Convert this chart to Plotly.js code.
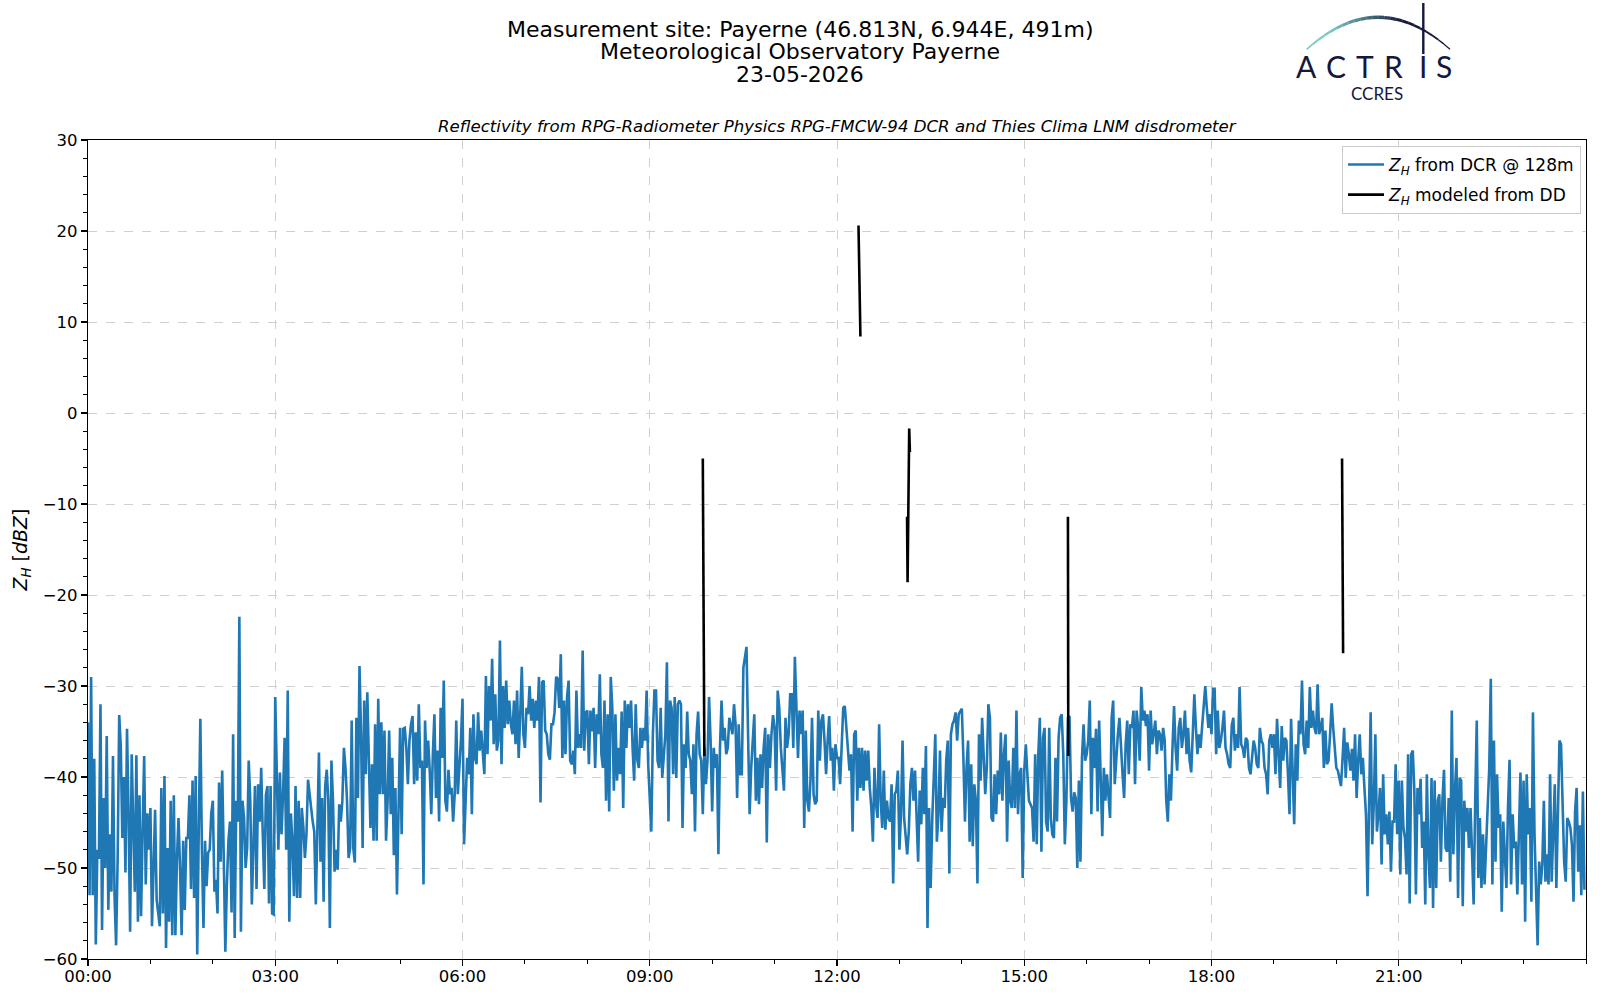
<!DOCTYPE html>
<html>
<head>
<meta charset="utf-8">
<script src="https://cdn.plot.ly/plotly-3.0.1.min.js"></script>
<style>html,body{margin:0;padding:0;background:#fff;}#chart{width:1600px;height:1000px;}</style>
</head>
<body>
<div id="chart"></div>
<script>
// ---- Data: Z_H from DCR @ 128m, 1.5-minute samples, one array per hour ----
const dayDate = '2026-05-23';
const stepSeconds = 90;
const zh00 = [-34,-53,-29,-53,-38,-58.4,-48,-49,-32,-56.8,-42.3,-50,-35.5,-54.6,-46.3,-52.6,-37.7,-53,-58.5,-49,-33.2,-36.6,-46.7,-40,-50.5,-34.7,-44,-57,-37.5,-45,-52.6,-37.6,-55.9,-42,-55.3,-46,-37.7,-51.8,-44,-48];
const zh01 = [-43.4,-56.4,-48,-43.6,-53.5,-54.8,-56.4,-41.2,-55,-39.9,-58.8,-47.8,-55.9,-42.6,-57.4,-42,-57.4,-49,-44.5,-50,-57.4,-47,-54.6,-46.7,-46.7,-42,-52.3,-40.4,-53.3,-39.9,-59.5,-45.5,-33.6,-48,-56.6,-47,-52,-48.3,-48,-44];
const zh02 = [-42.6,-52.6,-51.3,-55,-40.6,-49.3,-39.3,-48.9,-59.2,-51.8,-47,-44.9,-54.9,-35.3,-57.7,-42.6,-44.9,-22.4,-57,-42.6,-44.5,-50,-47.8,-38.2,-42.6,-54,-46.3,-41,-52.3,-40.8,-44.9,-39,-46.3,-52.3,-42,-41,-53.9,-41,-55,-55.1];
const zh03 = [-31.2,-38.6,-48,-39.5,-46.3,-42,-35.7,-48,-30.5,-55.9,-44,-47,-53.1,-41,-53.3,-42.6,-53.3,-43.4,-45.5,-48.9,-46.3,-40.3,-42.3,-43.4,-44.9,-46,-54,-43.4,-37.3,-49.3,-42.3,-53.7,-41,-39.2,-42.6,-56.6,-38.2,-42.6,-50.4,-48];
const zh04 = [-50.2,-43,-44.9,-42.6,-36.8,-39,-42.6,-48.9,-47.8,-33.8,-47.8,-49.4,-33.5,-42.3,-27.8,-35.3,-47.8,-31.6,-39.7,-30.7,-39.7,-45.6,-38.6,-47,-34.2,-47,-31.4,-41.9,-34,-41.9,-34.9,-47,-42.6,-34.9,-44.1,-37.9,-48.6,-41.2,-52.9,-44.1];
const zh05 = [-34.6,-46.3,-34.7,-34.6,-36.8,-40.8,-36,-34.2,-33.3,-40.8,-35.1,-40.4,-32,-39,-38.2,-51.8,-33.8,-39,-36,-39.3,-44.1,-37.5,-33.1,-42.3,-37.1,-44.9,-32.4,-37.9,-29.4,-42.6,-43.8,-39.2,-41.9,-41.2,-44.9,-41.9,-33.8,-41.9,-39.3,-36];
const zh06 = [-31.4,-47.4,-42.6,-37.9,-39.7,-34.6,-44.1,-33.1,-37.9,-38.6,-32.9,-37.1,-34.9,-37.9,-39.7,-28.9,-37.5,-30,-33.8,-27,-36.4,-30.9,-37.1,-36,-25,-38.6,-30,-34.6,-29.4,-34.2,-31.6,-34.2,-35.3,-31.6,-36.4,-30.5,-37.9,-33.1,-27.9,-35.3];
const zh07 = [-36.8,-32.4,-33.1,-30,-33.8,-31.4,-34.6,-31.6,-33.8,-29,-42.8,-29.6,-29.4,-34.9,-35.3,-37.5,-38.1,-34.2,-34.2,-32.9,-29,-29.2,-32.4,-26.5,-37.9,-31.6,-37.5,-31.2,-29.4,-38.2,-38.6,-37.1,-39.7,-30.5,-36.8,-35.3,-36.8,-26.1,-37.1,-32.9];
const zh08 = [-32.7,-38.6,-32.7,-35,-32.4,-39,-33.1,-35.3,-28.7,-37.5,-39,-31.6,-42.6,-33.1,-43.8,-29,-32.4,-41.5,-33.1,-40.4,-36.8,-39.7,-32.8,-43.4,-31.6,-36.8,-32,-34.6,-31.6,-36.8,-40.4,-32,-38.1,-39,-34.6,-36.8,-34.6,-36,-30.5,-38.6];
const zh09 = [-43.4,-46,-35.3,-30.5,-30.5,-38.2,-39,-32.4,-40.1,-37.1,-35.3,-27.4,-44.9,-31.6,-32.4,-39.7,-31.2,-40.1,-32,-31.6,-32,-45.6,-36.4,-39,-32.8,-37.5,-38.2,-41.9,-36.4,-46,-35.3,-32.8,-37.5,-38.2,-44.1,-36.8,-40.8,-38.2,-31.2,-36];
const zh10 = [-43.8,-36.8,-39,-37.5,-48.5,-36.8,-31.6,-36,-34.6,-37.5,-36.8,-33.5,-34.6,-35.3,-32,-34.2,-42.3,-34.2,-39.7,-39.7,-28,-26.8,-25.7,-35.3,-44.1,-39,-35.3,-33.1,-42.6,-37.9,-43,-37.5,-41.2,-36.8,-34.6,-47.2,-35.3,-39,-35.3,-33.2];
const zh11 = [-34.6,-41.5,-30.5,-32.4,-36.8,-39.7,-41.5,-33.5,-36.8,-35.3,-30.9,-30.9,-36.8,-26.8,-32,-37.9,-32.7,-35.3,-32.7,-45.6,-34.9,-42.6,-43.8,-40.4,-33.5,-41.9,-43,-42.6,-32.7,-38.2,-33.8,-33.1,-36,-39.7,-36,-33.3,-38.2,-36.8,-41.5,-36.4];
const zh12 = [-37.9,-37.9,-40.8,-36,-32.4,-32.2,-34.6,-36.8,-39.3,-37.5,-46,-35.3,-34.9,-42.6,-36.8,-41.2,-36.8,-41.5,-37.1,-40.4,-37.1,-41.2,-43.4,-47.1,-39,-43,-44.5,-34.2,-42.6,-45.6,-39.3,-45.8,-42.6,-44.5,-44.9,-40.8,-51.7,-41.9,-41.5,-39.3];
const zh13 = [-48,-44.1,-36,-44.5,-46.3,-48.5,-46,-40.8,-39,-42.6,-39.3,-43.4,-49.3,-41.5,-45.2,-39,-44.1,-36.6,-56.6,-43.4,-52.2,-44.9,-39.7,-35.3,-47.1,-44.1,-37.1,-46,-42.3,-43.4,-38.2,-36,-50.6,-35.3,-34.2,-33.8,-32.9,-36,-33.1,-32.7];
const zh14 = [-32.5,-37.9,-44.9,-39,-36,-47.1,-38.6,-47.6,-40.8,-42.6,-51.7,-35.3,-40.4,-33.5,-38.2,-41.9,-39,-32,-33.5,-44.5,-44.9,-39.7,-44.1,-39.3,-41.9,-35.1,-42.6,-37.5,-35.3,-47.1,-38.2,-42.6,-43.4,-36.8,-43.4,-32.7,-44.1,-39.7,-39,-51.1];
const zh15 = [-39.3,-36.4,-39.7,-42.6,-43,-43.4,-47.1,-37.5,-47.4,-37.5,-33.5,-48.2,-35.7,-34.6,-44.9,-46,-34.6,-44.5,-46.3,-46.7,-37.9,-44.9,-35.7,-33.5,-33.1,-37.5,-47.4,-42.6,-33.5,-33.3,-42.3,-43.8,-41.7,-42.3,-50,-40.4,-49.3,-37.9,-34.2,-38.2];
const zh16 = [-37.5,-36,-31.6,-44.1,-35.7,-39,-34.7,-43.8,-33.8,-41.5,-46.5,-39,-42.6,-39.7,-42.6,-44.5,-33.5,-31.6,-40.8,-37.9,-35.3,-33.5,-37.5,-39.7,-42.3,-36.4,-33.8,-39.7,-34.2,-34.6,-32.7,-40.8,-32.7,-34.6,-38.2,-30.1,-33.8,-32.7,-34.4,-33.1];
const zh17 = [-39.3,-32.7,-36.4,-35.3,-33.8,-37.5,-34.9,-35.3,-37.1,-34.6,-36,-42.6,-44.9,-39.7,-42.6,-36.8,-32.2,-36.8,-39.3,-34.6,-33.5,-36.8,-35.3,-32.7,-37.5,-34.6,-38.2,-39.5,-35.3,-30.9,-34.6,-37.5,-35.3,-36.8,-34.4,-31.6,-30,-32.4,-34.6,-33.1];
const zh18 = [-35.3,-30.3,-30.3,-37.5,-32.7,-36.8,-36,-34.6,-32.7,-36.8,-37.5,-38.6,-39,-34.3,-33.5,-37.1,-35.3,-36.8,-30.1,-36.4,-36.8,-37.9,-35.7,-36,-39,-39.7,-37.9,-36,-36.8,-38.6,-39,-34.6,-36,-36.4,-39,-39.7,-41.9,-36,-35.3,-36.8];
const zh19 = [-35.3,-39.7,-33.6,-37.5,-41.2,-34.4,-38.2,-35.7,-36,-39.7,-44.1,-33.6,-40.4,-45.2,-36.4,-40.4,-33.8,-35.3,-29.4,-36.4,-37.5,-33.8,-36.8,-30.1,-34.6,-32.7,-34.6,-35.3,-29.8,-35.3,-34.6,-33.5,-39,-34.9,-38.6,-38.2,-35.3,-31.9,-34.6,-36.4];
const zh20 = [-39,-39.3,-40.4,-41,-37.9,-34.6,-40.1,-36.2,-37.5,-39.3,-36.9,-40.4,-35.3,-42.3,-38.2,-35.3,-39.7,-37.9,-41.2,-44.1,-53.1,-42.6,-32.9,-47.4,-43,-35.3,-46,-44.1,-41.2,-49.6,-39.7,-46.3,-44.1,-47.4,-43.8,-50.4,-44.9,-44.9,-38.6,-46.3];
const zh21 = [-40.4,-50.7,-40.4,-45.6,-46.7,-50.7,-37.5,-53.9,-37.5,-37.1,-41.5,-52.9,-41.2,-44.1,-40.2,-47.8,-44.9,-54,-39.7,-48.5,-52.2,-40.1,-54.4,-40.4,-52.2,-42.6,-41.9,-49.3,-42.6,-39.2,-47.8,-48.2,-42.3,-51.5,-32.7,-48.5,-41.5,-37.9,-53.3,-40.1];
const zh22 = [-40.4,-54.2,-42.6,-46,-43.4,-47.8,-43.4,-48.5,-54,-42.6,-33.8,-51.1,-44.5,-52.2,-46.3,-51.8,-47.8,-44.9,-39,-29.2,-51.8,-36,-49.3,-39.7,-45.6,-44.1,-54.8,-44.9,-49.3,-52.2,-43.4,-38.1,-51.8,-44.1,-47.8,-47.1,-52.9,-46.3,-39.5,-51.8];
const zh23 = [-40.4,-55.9,-39.7,-46.3,-43.4,-53.7,-32.9,-46.3,-51.8,-58.5,-49.3,-51.8,-49.6,-42.6,-51.5,-48.5,-51.8,-39.7,-51.5,-44.5,-40.8,-52.2,-42.6,-36,-36.4,-44.5,-49.3,-51.5,-44.5,-44.9,-45.6,-47.5,-53.7,-43.8,-41.2,-50.4,-45.3,-53,-41.6,-52.4];

// ---- Data: Z_H modeled from disdrometer (null = no data) ----
const ddTimes  = ['09:51:00','09:52:30','11:00:00','12:20:40','12:22:30','12:50:00','13:07:20','13:07:50','13:09:25','13:10:05','14:30:00','15:42:00','15:42:20','18:00:00','20:05:30','20:06:30'];
const ddValues = [-5.0, -37.7, null, 20.6, 8.4, null, -11.4, -18.6, -1.7, -4.3, null, -11.4, -37.7, null, -5.0, -26.4];

// ---- Tick labels ----
const xTickVals = ['00:00:00','03:00:00','06:00:00','09:00:00','12:00:00','15:00:00','18:00:00','21:00:00'];
const xTickText = ['00:00','03:00','06:00','09:00','12:00','15:00','18:00','21:00'];
const yTickVals = [-60,-50,-40,-30,-20,-10,0,10,20,30];
const yTickText = ['\u221260','\u221250','\u221240','\u221230','\u221220','\u221210','0','10','20','30'];

// ---- Build traces ----
const zhAll = [].concat(zh00,zh01,zh02,zh03,zh04,zh05,zh06,zh07,zh08,zh09,zh10,zh11,zh12,zh13,zh14,zh15,zh16,zh17,zh18,zh19,zh20,zh21,zh22,zh23);
function pad(n){return (n<10?'0':'')+n;}
function stamp(sec){const h=Math.floor(sec/3600),m=Math.floor((sec%3600)/60),s=sec%60;return dayDate+' '+pad(h)+':'+pad(m)+':'+pad(s);}
const zhTimes = zhAll.map((v,i)=>stamp(i*stepSeconds));
const ddX = ddTimes.map(t=>dayDate+' '+t);

const zhLabel = '<i>Z</i><sub><i>H</i></sub> from DCR @ 128m';
const ddLabel = '<i>Z</i><sub><i>H</i></sub> modeled from DD';

const traces = [
  {x: zhTimes, y: zhAll, type:'scatter', mode:'lines', name: zhLabel, legendgroup:'a', line:{color:'#1f77b4', width:2.6}},
  {x: ddX, y: ddValues, type:'scatter', mode:'lines', name: ddLabel, legendgroup:'b', line:{color:'#000000', width:2.6}, connectgaps:false}
];

// ---- Layout helpers (pixel -> paper) ----
const L=88, R=1586, T=140, B=959;
const X = px => (px-L)/(R-L);
const Y = py => (B-py)/(B-T);

const FONT = 'DejaVu Sans, Verdana, sans-serif';
const annotations = [
  {text:'Measurement site: Payerne (46.813N, 6.944E, 491m)', x:X(800), y:Y(29), xref:'paper', yref:'paper', showarrow:false, xanchor:'center', yanchor:'middle', font:{family:FONT,size:22,color:'#000'}},
  {text:'Meteorological Observatory Payerne', x:X(800), y:Y(51.5), xref:'paper', yref:'paper', showarrow:false, xanchor:'center', yanchor:'middle', font:{family:FONT,size:22,color:'#000'}},
  {text:'23-05-2026', x:X(800), y:Y(74.5), xref:'paper', yref:'paper', showarrow:false, xanchor:'center', yanchor:'middle', font:{family:FONT,size:22,color:'#000'}},
  {text:'<i>Reflectivity from RPG-Radiometer Physics RPG-FMCW-94 DCR and Thies Clima LNM disdrometer</i>', x:X(837), y:Y(126), xref:'paper', yref:'paper', showarrow:false, xanchor:'center', yanchor:'middle', font:{family:FONT,size:16.6,color:'#000'}}
];

// ACTRIS logo
const navy = '#14183d';
const logoLetters = [['A',1306.7],['C',1336],['T',1365],['R',1393],['I',1423.3],['S',1444]];
logoLetters.forEach(([ch,px])=>{
  annotations.push({text:ch, x:X(px), y:Y(66), xref:'paper', yref:'paper', showarrow:false, xanchor:'center', yanchor:'middle', font:{family:'Lato, Noto Sans, sans-serif', size:30, color:navy}});
});
annotations.push({text:'CCRES', x:X(1377), y:Y(94), xref:'paper', yref:'paper', showarrow:false, xanchor:'center', yanchor:'middle', font:{family:'Lato, Noto Sans, sans-serif', size:17, color:navy}});

const shapes = [];
const P0=[1306.7,49.3], C=[1378,-14.7], P2=[1450,49.3];
const c0=[120,200,195], c1=[20,24,61];
const nSeg=24;
function bez(t){return [(1-t)*(1-t)*P0[0]+2*(1-t)*t*C[0]+t*t*P2[0], (1-t)*(1-t)*P0[1]+2*(1-t)*t*C[1]+t*t*P2[1]];}
for(let k=0;k<nSeg;k++){
  const t0=k/nSeg, t1=(k+1)/nSeg, a=bez(t0), b=bez(t1);
  const f=Math.min(1,Math.max(0,(t0-0.15)/0.5));
  const col='rgb('+c0.map((v,j)=>Math.round(v+(c1[j]-v)*f)).join(',')+')';
  const w = 1.2 + 2.2*Math.sin(Math.PI*Math.min(1,(t0+0.05)));
  shapes.push({type:'line', xref:'paper', yref:'paper', x0:X(a[0]), y0:Y(a[1]), x1:X(b[0]), y1:Y(b[1]), line:{color:col, width:Math.max(1.2,w)}});
}
shapes.push({type:'line', xref:'paper', yref:'paper', x0:X(1423.3), y0:Y(3), x1:X(1423.3), y1:Y(54), line:{color:navy, width:2.4}});

const axisCommon = {
  showline:true, linecolor:'#000', linewidth:1.2, mirror:true,
  ticks:'outside', ticklen:6, tickwidth:1.2, tickcolor:'#000',
  showgrid:true, gridcolor:'#d0d0d0', gridwidth:1, griddash:'dash',
  zeroline:false, tickfont:{family:FONT, size:16.5, color:'#000'}
};

const layout = {
  width:1600, height:1000,
  margin:{l:L, r:1600-R, t:T, b:1000-B, pad:0},
  paper_bgcolor:'#fff', plot_bgcolor:'#fff',
  font:{family:FONT, color:'#000'},
  showlegend:true,
  legend:{x:X(1581), y:Y(146), xanchor:'right', yanchor:'top', bgcolor:'rgba(255,255,255,0.85)', bordercolor:'#cccccc', borderwidth:1, font:{family:FONT, size:17, color:'#000'}, tracegroupgap:5, itemwidth:36},
  xaxis: Object.assign({}, axisCommon, {
    type:'date',
    range:[dayDate+' 00:00:00', '2026-05-24 00:00:00'],
    tickvals: xTickVals.map(t=>dayDate+' '+t), ticktext: xTickText,
    ticklabelstandoff:-4,
    minor:{dtick:3600000, tick0:dayDate+' 00:00:00', ticks:'outside', ticklen:3.5, tickwidth:1, tickcolor:'#000', showgrid:false}
  }),
  yaxis: Object.assign({}, axisCommon, {
    range:[-60,30], tickvals:yTickVals, ticktext:yTickText,
    minor:{tick0:-60, dtick:2, ticks:'outside', ticklen:3.5, tickwidth:1, tickcolor:'#000', showgrid:false},
    title:{text:'<i>Z</i><sub><i>H</i></sub> [<i>dBZ</i>]', font:{family:FONT, size:19, color:'#000'}, standoff:10}
  }),
  annotations: annotations,
  shapes: shapes
};

Plotly.newPlot('chart', traces, layout, {displayModeBar:false, staticPlot:true});
</script>
</body>
</html>
